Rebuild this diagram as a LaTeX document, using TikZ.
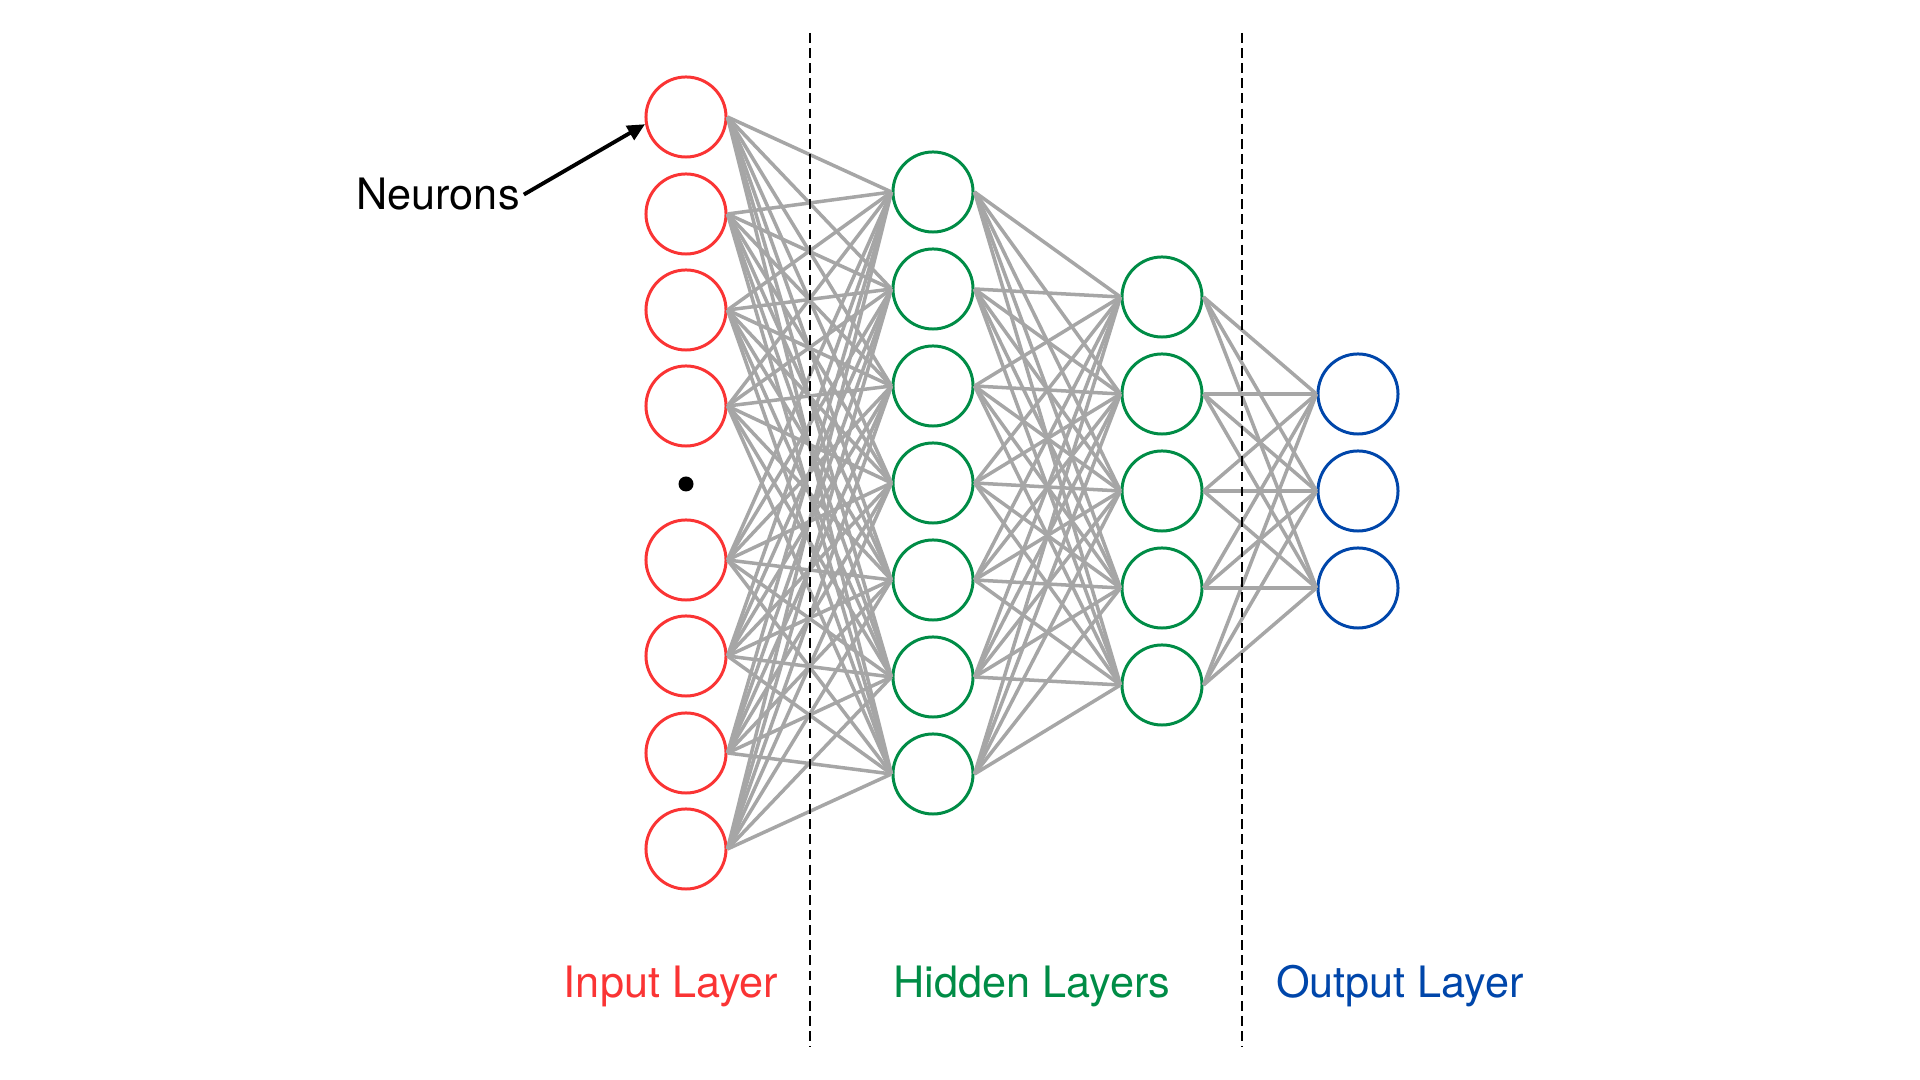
\documentclass[tikz,border=0pt]{standalone}
\usepackage{fontspec}
\setmainfont{TeX Gyre Heros}
\usetikzlibrary{arrows.meta}
\definecolor{inred}{RGB}{250,52,52}
\definecolor{hidgreen}{RGB}{0,140,70}
\definecolor{outblue}{RGB}{0,70,170}
\definecolor{edgegray}{RGB}{166,166,166}
\tikzset{
	neuron/.style={circle,draw,line width=0.85pt,minimum size=0.8cm,inner sep=0pt},
	edge/.style={edgegray,line width=1pt},
	divider/.style={black,line width=0.7pt,dash pattern=on 2.8pt off 1.5pt},
	layername/.style={anchor=base,font=\fontsize{12.3}{14}\selectfont}
}
\begin{document}
\begin{tikzpicture}[x=0.01cm,y=-0.01cm]
	\useasboundingbox (0,0) rectangle (1920,1080);
	% layers
	\foreach \n/\y in {1/117,2/214,3/310,4/406,5/560,6/656,7/753,8/849}
		\path (686,\y) node(i\n)[neuron,inred]{};
	\foreach \n in {1,...,7}
		\path (933,{192+97*(\n-1)}) node(h\n)[neuron,hidgreen]{};
	\foreach \n in {1,...,5}
		\path (1162,{297+97*(\n-1)}) node(g\n)[neuron,hidgreen]{};
	\foreach \n in {1,...,3}
		\path (1358,{394+97*(\n-1)}) node(o\n)[neuron,outblue]{};
	\path (686,484) node(gap)[circle,fill=black,minimum size=0.15cm,inner sep=0pt]{};

	% connections
	\foreach \a in {1,...,8}
		\foreach \b in {1,...,7}
			\draw[edge] (i\a.east) -- (h\b.west);
	\foreach \a in {1,...,7}
		\foreach \b in {1,...,5}
			\draw[edge] (h\a.east) -- (g\b.west);
	\foreach \a in {1,...,5}
		\foreach \b in {1,...,3}
			\draw[edge] (g\a.east) -- (o\b.west);

	% dividers
	\draw[divider] (810,33) -- (810,1047);
	\draw[divider] (1242,33) -- (1242,1047);

	% labels
	\path (438,210) node(neur)[layername,inner sep=1pt]{Neurons};
	\draw[line width=1.1pt,-{Triangle[length=5pt,width=4.5pt]}] (neur.east) -- (i1.190);
	\path (671,998) node(lin)[layername,inred]{Input Layer}
		(1032,998) node(lhid)[layername,hidgreen]{Hidden Layers}
		(1400,998) node(lout)[layername,outblue]{Output Layer};
\end{tikzpicture}
\end{document}
